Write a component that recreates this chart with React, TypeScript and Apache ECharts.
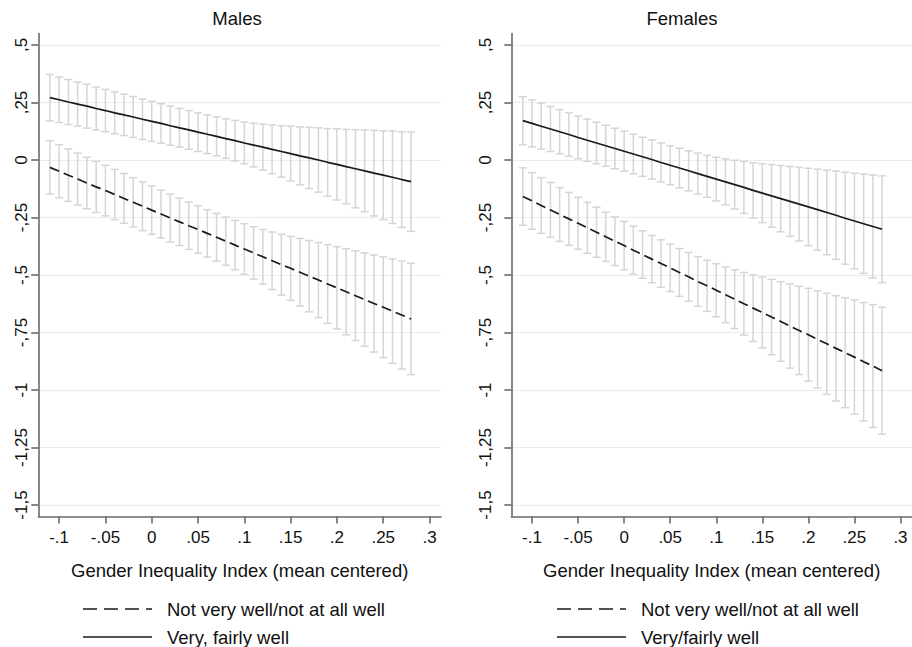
import React, { useEffect, useRef } from "react";
import * as echarts from "echarts";

const xs = [
  -0.11, -0.1, -0.09, -0.08, -0.07, -0.06, -0.05, -0.04, -0.03, -0.02,
  -0.01, 0, 0.01, 0.02, 0.03, 0.04, 0.05, 0.06, 0.07, 0.08,
  0.09, 0.1, 0.11, 0.12, 0.13, 0.14, 0.15, 0.16, 0.17, 0.18,
  0.19, 0.2, 0.21, 0.22, 0.23, 0.24, 0.25, 0.26, 0.27, 0.28,
];

// Males
const maleWell = [
  0.271, 0.262, 0.252, 0.243, 0.234, 0.224, 0.215, 0.205, 0.196, 0.187,
  0.177, 0.168, 0.159, 0.149, 0.14, 0.131, 0.121, 0.112, 0.103, 0.093,
  0.084, 0.074, 0.065, 0.056, 0.046, 0.037, 0.028, 0.018, 0.009, 0.0,
  -0.01, -0.019, -0.029, -0.038, -0.047, -0.057, -0.066, -0.075, -0.085, -0.094,
];
const maleWellHalfCI = [
  0.101, 0.099, 0.098, 0.096, 0.095, 0.093, 0.092, 0.091, 0.09, 0.089,
  0.088, 0.087, 0.086, 0.085, 0.084, 0.084, 0.084, 0.084, 0.085, 0.086,
  0.088, 0.091, 0.095, 0.1, 0.106, 0.112, 0.119, 0.126, 0.133, 0.14,
  0.147, 0.155, 0.162, 0.17, 0.178, 0.186, 0.193, 0.201, 0.208, 0.216,
];
const maleNotWell = [
  -0.032, -0.049, -0.066, -0.083, -0.1, -0.117, -0.133, -0.15, -0.167, -0.184,
  -0.201, -0.218, -0.235, -0.252, -0.269, -0.286, -0.302, -0.319, -0.336, -0.353,
  -0.37, -0.387, -0.404, -0.421, -0.438, -0.455, -0.471, -0.488, -0.505, -0.522,
  -0.539, -0.556, -0.573, -0.59, -0.607, -0.624, -0.64, -0.657, -0.674, -0.691,
];
const maleNotWellHalfCI = [
  0.116, 0.115, 0.114, 0.113, 0.112, 0.111, 0.11, 0.109, 0.108, 0.107,
  0.106, 0.105, 0.104, 0.104, 0.103, 0.103, 0.103, 0.103, 0.104, 0.105,
  0.107, 0.11, 0.114, 0.119, 0.125, 0.132, 0.139, 0.147, 0.155, 0.163,
  0.171, 0.179, 0.187, 0.195, 0.203, 0.211, 0.219, 0.227, 0.235, 0.242,
];

// Females
const femaleWell = [
  0.171, 0.159, 0.147, 0.135, 0.123, 0.111, 0.098, 0.086, 0.074, 0.062,
  0.05, 0.038, 0.026, 0.014, 0.002, -0.011, -0.023, -0.035, -0.047, -0.059,
  -0.071, -0.083, -0.095, -0.107, -0.119, -0.132, -0.144, -0.156, -0.168, -0.18,
  -0.192, -0.204, -0.216, -0.228, -0.24, -0.253, -0.265, -0.277, -0.289, -0.301,
];
const femaleWellHalfCI = [
  0.104, 0.102, 0.1, 0.098, 0.096, 0.095, 0.093, 0.092, 0.09, 0.089,
  0.088, 0.087, 0.086, 0.085, 0.085, 0.085, 0.085, 0.086, 0.087, 0.089,
  0.091, 0.095, 0.1, 0.106, 0.113, 0.12, 0.128, 0.136, 0.144, 0.152,
  0.16, 0.168, 0.176, 0.184, 0.192, 0.2, 0.208, 0.216, 0.224, 0.232,
];
const femaleNotWell = [
  -0.159, -0.178, -0.198, -0.217, -0.237, -0.256, -0.275, -0.295, -0.314, -0.334,
  -0.353, -0.372, -0.392, -0.411, -0.431, -0.45, -0.469, -0.489, -0.508, -0.528,
  -0.547, -0.566, -0.586, -0.605, -0.625, -0.644, -0.663, -0.683, -0.702, -0.722,
  -0.741, -0.76, -0.78, -0.799, -0.819, -0.838, -0.857, -0.877, -0.896, -0.916,
];
const femaleNotWellHalfCI = [
  0.125, 0.123, 0.121, 0.119, 0.117, 0.115, 0.113, 0.111, 0.109, 0.107,
  0.106, 0.105, 0.104, 0.103, 0.103, 0.103, 0.103, 0.104, 0.106, 0.108,
  0.111, 0.115, 0.121, 0.128, 0.136, 0.145, 0.154, 0.164, 0.173, 0.183,
  0.192, 0.202, 0.211, 0.22, 0.229, 0.239, 0.248, 0.257, 0.267, 0.276,
];

const yTickValues = [0.5, 0.25, 0, -0.25, -0.5, -0.75, -1, -1.25, -1.5];
const yTickLabels = [",5", ",25", "0", "-,25", "-,5", "-,75", "-1", "-1,25", "-1,5"];
const xTickValues = [-0.1, -0.05, 0, 0.05, 0.1, 0.15, 0.2, 0.25, 0.3];
const xTickLabels = ["-.1", "-.05", "0", ".05", ".1", ".15", ".2", ".25", ".3"];

const panelTitles = ["Males", "Females"];
const xAxisTitle = "Gender Inequality Index (mean centered)";
const legendNotWell = "Not very well/not at all well";
const legendWellMale = "Very, fairly well";
const legendWellFemale = "Very/fairly well";

const FONT = "'Liberation Sans', Arial, Helvetica, sans-serif";
const AXIS_COLOR = "#6a6a6a";
const BAR_COLOR = "#d5d5d5";
const LINE_COLOR = "#1a1a1a";
const TEXT_COLOR = "#111111";

const labelFor = (vals: number[], labels: string[]) => (v: number) => {
  const i = vals.findIndex((t) => Math.abs(t - v) < 1e-9);
  return i >= 0 ? labels[i] : "";
};

const ciData = (mean: number[], half: number[]) =>
  xs.map((x, i) => [x, +(mean[i] - half[i]).toFixed(4), +(mean[i] + half[i]).toFixed(4)]);

const lineData = (mean: number[]) => xs.map((x, i) => [x, mean[i]]);

const renderErrorBar = (params: any, api: any) => {
  const x = api.value(0);
  const lo = api.value(1);
  const hi = api.value(2);
  const pHi = api.coord([x, hi]);
  const pLo = api.coord([x, lo]);
  const cap = 4;
  const style = { stroke: BAR_COLOR, lineWidth: 1.5 };
  return {
    type: "group",
    children: [
      { type: "line", shape: { x1: pHi[0], y1: pHi[1], x2: pLo[0], y2: pLo[1] }, style },
      { type: "line", shape: { x1: pHi[0] - cap, y1: pHi[1], x2: pHi[0] + cap, y2: pHi[1] }, style },
      { type: "line", shape: { x1: pLo[0] - cap, y1: pLo[1], x2: pLo[0] + cap, y2: pLo[1] }, style },
    ],
  };
};

const legendGraphic = (left: number, names: string[]) => {
  const rows = [609, 637];
  const items: any[] = [];
  rows.forEach((y, i) => {
    items.push({
      type: "line",
      shape: { x1: left, y1: y, x2: left + 69, y2: y },
      style: { stroke: LINE_COLOR, lineWidth: 1.6, lineDash: i === 0 ? [14, 7] : null },
      silent: true,
    });
    items.push({
      type: "text",
      x: left + 84,
      y,
      style: {
        text: names[i],
        fontSize: 18.5,
        fill: TEXT_COLOR,
        fontFamily: FONT,
        align: "left",
        verticalAlign: "middle",
      },
      silent: true,
    });
  });
  return items;
};

export default function App() {
  const ref = useRef<HTMLDivElement>(null);

  useEffect(() => {
    if (!ref.current) return;
    const chart = echarts.init(ref.current, undefined, { renderer: "svg" });

    const grids = [
      { left: 38.3, top: 33.5, width: 402.8, height: 483 },
      { left: 511.3, top: 33.5, width: 402.8, height: 483 },
    ];

    const xAxis = [0, 1].map((g) => ({
      type: "value",
      gridIndex: g,
      min: -0.1225,
      max: 0.3125,
      name: xAxisTitle,
      nameLocation: "middle",
      nameGap: 44,
      nameTextStyle: { fontSize: 18.5, color: TEXT_COLOR, fontFamily: FONT },
      axisLine: { show: true, onZero: false, lineStyle: { color: AXIS_COLOR, width: 1.6 } },
      axisTick: { show: true, length: 7, customValues: xTickValues, lineStyle: { color: AXIS_COLOR, width: 1.6 } },
      axisLabel: {
        customValues: xTickValues,
        formatter: labelFor(xTickValues, xTickLabels),
        fontSize: 17,
        color: TEXT_COLOR,
        fontFamily: FONT,
        margin: 12,
      },
      splitLine: { show: false },
    }));

    const yAxis = [0, 1].map((g) => ({
      type: "value",
      gridIndex: g,
      min: -1.55,
      max: 0.55,
      axisLine: { show: true, onZero: false, lineStyle: { color: AXIS_COLOR, width: 1.6 } },
      axisTick: { show: true, length: 7, customValues: yTickValues, lineStyle: { color: AXIS_COLOR, width: 1.6 } },
      axisLabel: {
        customValues: yTickValues,
        formatter: labelFor(yTickValues, yTickLabels),
        rotate: 90,
        fontSize: 17,
        color: TEXT_COLOR,
        fontFamily: FONT,
        margin: g === 0 ? 8 : 17,
      },
      splitLine: { show: true, lineStyle: { color: "#ececec", width: 1 } },
    }));

    const panels = [
      { notWell: maleNotWell, notWellCI: maleNotWellHalfCI, well: maleWell, wellCI: maleWellHalfCI, wellName: legendWellMale },
      { notWell: femaleNotWell, notWellCI: femaleNotWellHalfCI, well: femaleWell, wellCI: femaleWellHalfCI, wellName: legendWellFemale },
    ];

    const series: any[] = [];
    panels.forEach((p, g) => {
      series.push({
        type: "custom",
        name: "ci-well-" + g,
        xAxisIndex: g,
        yAxisIndex: g,
        renderItem: renderErrorBar,
        encode: { x: 0, y: [1, 2] },
        data: ciData(p.well, p.wellCI),
        z: 2,
        silent: true,
      });
      series.push({
        type: "custom",
        name: "ci-notwell-" + g,
        xAxisIndex: g,
        yAxisIndex: g,
        renderItem: renderErrorBar,
        encode: { x: 0, y: [1, 2] },
        data: ciData(p.notWell, p.notWellCI),
        z: 2,
        silent: true,
      });
      series.push({
        type: "line",
        name: legendNotWell,
        xAxisIndex: g,
        yAxisIndex: g,
        data: lineData(p.notWell),
        symbol: "none",
        lineStyle: { color: LINE_COLOR, width: 1.7, type: [10, 5] },
        itemStyle: { color: LINE_COLOR },
        z: 3,
        silent: true,
      });
      series.push({
        type: "line",
        name: p.wellName,
        xAxisIndex: g,
        yAxisIndex: g,
        data: lineData(p.well),
        symbol: "none",
        lineStyle: { color: LINE_COLOR, width: 1.7, type: "solid" },
        itemStyle: { color: LINE_COLOR },
        z: 3,
        silent: true,
      });
    });

    chart.setOption({
      animation: false,
      backgroundColor: "#ffffff",
      textStyle: { fontFamily: FONT },
      grid: grids,
      xAxis,
      yAxis,
      graphic: [
        {
          type: "text",
          x: 237,
          y: 18,
          style: { text: panelTitles[0], fontSize: 18.5, fill: TEXT_COLOR, fontFamily: FONT, align: "center", verticalAlign: "middle" },
        },
        {
          type: "text",
          x: 682,
          y: 18,
          style: { text: panelTitles[1], fontSize: 18.5, fill: TEXT_COLOR, fontFamily: FONT, align: "center", verticalAlign: "middle" },
        },
        ...legendGraphic(83, [legendNotWell, legendWellMale]),
        ...legendGraphic(557, [legendNotWell, legendWellFemale]),
      ],
      series,
    });

    return () => chart.dispose();
  }, []);

  return (
    <div
      ref={ref}
      style={{ position: "absolute", left: 0, top: 0, width: 912, height: 647, background: "#fff" }}
    />
  );
}
